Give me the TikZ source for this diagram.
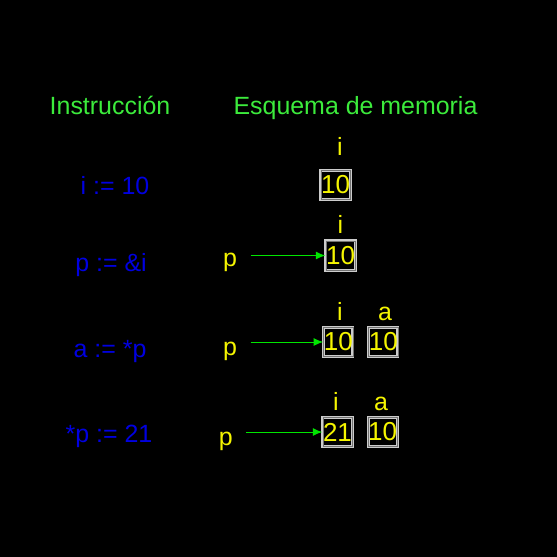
\documentclass[tikz,border=0pt]{standalone}
\usepackage{fontspec}
\setmainfont{Liberation Sans}
\usetikzlibrary{arrows.meta}

\definecolor{verdetit}{RGB}{60,235,60}
\definecolor{azulins}{RGB}{0,0,225}
\definecolor{amarillo}{RGB}{245,245,0}
\definecolor{verdeflecha}{RGB}{0,230,0}

\tikzset{
  titulo/.style={anchor=base, text=verdetit, inner sep=0pt, font=\fontsize{18.7}{22}\selectfont},
  instr/.style={anchor=base, text=azulins, inner sep=0pt, font=\fontsize{18.7}{22}\selectfont},
  etiq/.style={anchor=base, text=amarillo, inner sep=0pt, font=\fontsize{18.7}{22}\selectfont},
  celda/.style={draw=white!80!black, double=black!55, double distance=0.45pt, line width=0.9pt,
    minimum size=22pt, inner sep=0pt, text=amarillo, font=\fontsize{19.5}{22}\selectfont},
  ptr/.style={draw=verdeflecha, line width=0.75pt, -{Latex[length=7pt,width=6pt]}}
}

\begin{document}
\begin{tikzpicture}[x=0.75pt,y=0.75pt,yscale=-1,xscale=1]
%fondo negro
\fill[black] (0,0) rectangle (557,557);
\useasboundingbox (0,0) rectangle (557,557);

% Titulos
\node[titulo] (tins) at (110,114) {Instrucción};
\node[titulo] (tmem) at (355.5,114) {Esquema de memoria};

% Instrucciones
\node[instr] (ins1) at (115,194.3) {i := 10};
\node[instr] (ins2) at (111,271) {p := \&i};
\node[instr] (ins3) at (110,357.3) {a := *p};
\node[instr] (ins4) at (109,442.3) {*p := 21};

% Paso 1
\node[etiq] (li1) at (340,155) {i};
\node[celda] (i1) at (335.5,185) {10};

% Paso 2
\node[etiq] (li2) at (340.5,233) {i};
\node[celda] (i2) at (340.5,255.5) {10};
\node[etiq] (p2) at (230,266) {p};
\draw[ptr, shorten <=10pt] (p2.east |- i2) -- (i2.west);

% Paso 3
\node[etiq] (li3) at (340,320) {i};
\node[etiq] (la3) at (385,320) {a};
\node[celda] (i3) at (338.3,342) {10};
\node[celda] (a3) at (383.3,342) {10};
\node[etiq] (p3) at (230,355) {p};
\draw[ptr, shorten <=10pt] (p3.east |- i3) -- (i3.west);

% Paso 4
\node[etiq] (li4) at (336,410) {i};
\node[etiq] (la4) at (381,410) {a};
\node[celda] (i4) at (337.5,432) {21};
\node[celda] (a4) at (382.7,432) {10};
\node[etiq] (p4) at (225.7,445) {p};
\draw[ptr, shorten <=10pt] (p4.east |- i4) -- (i4.west);

\end{tikzpicture}
\end{document}
